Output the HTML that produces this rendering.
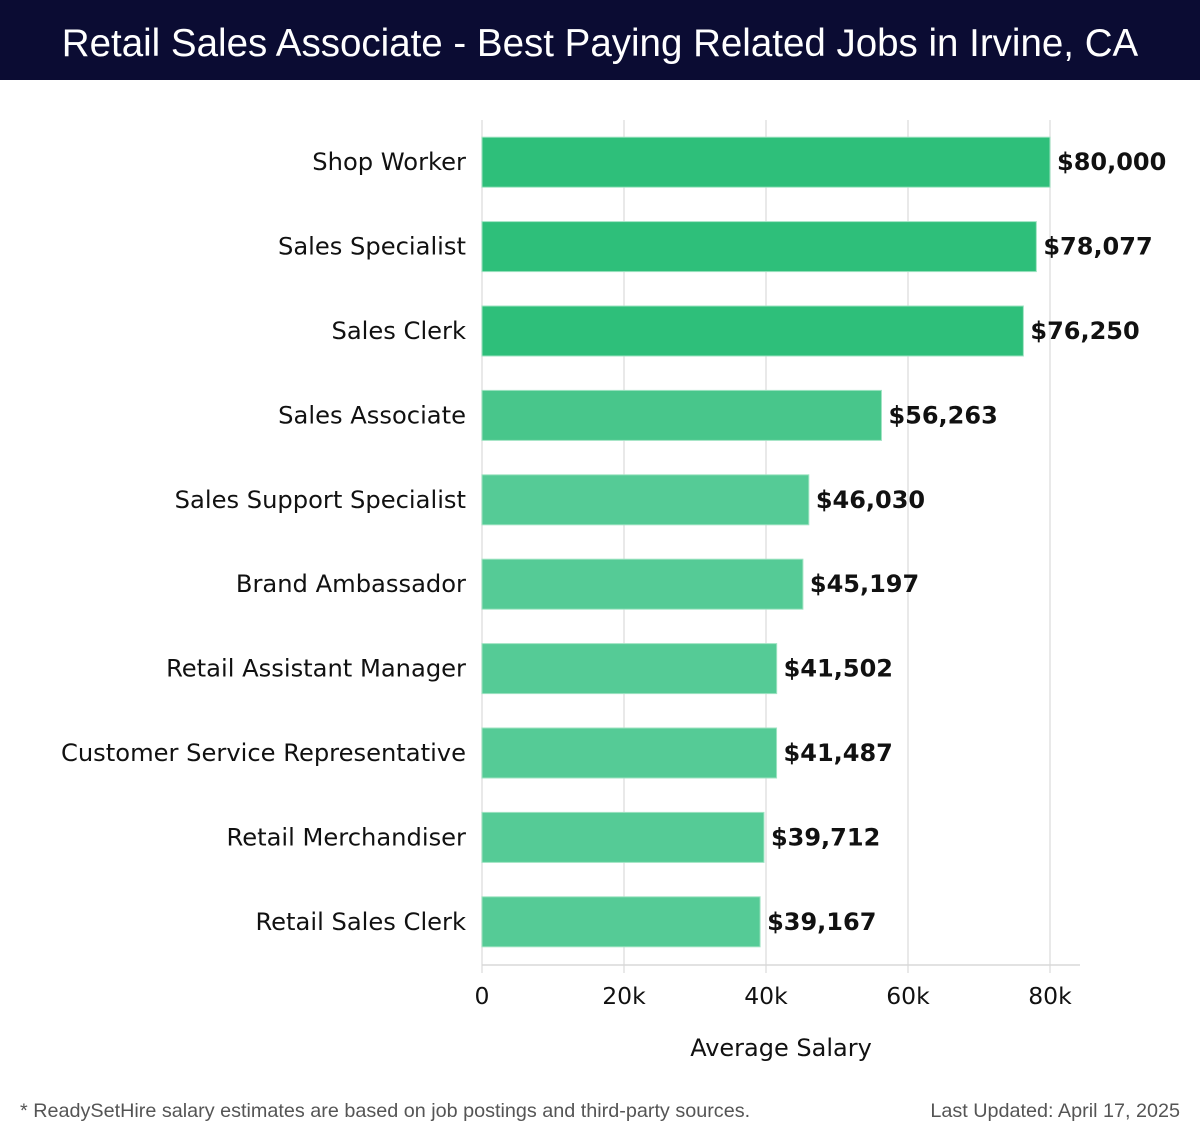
<!DOCTYPE html>
<html><head><meta charset="utf-8"><style>
body{margin:0;width:1200px;height:1140px;background:#fff;overflow:hidden;font-family:"DejaVu Sans","Liberation Sans",sans-serif}
#hdr{position:absolute;left:0;top:0;width:1200px;height:80px;background:#0b0c33;color:#fff;font-family:"Liberation Sans",sans-serif;font-size:38.5px;text-align:center;line-height:88px}
.ft{position:absolute;top:1100px;font-family:"Liberation Sans",sans-serif;font-size:19.8px;color:#555}
</style></head><body>
<div id="hdr">Retail Sales Associate - Best Paying Related Jobs in Irvine, CA</div>
<svg id="chart" width="1200" height="1140" style="position:absolute;left:0;top:0"></svg>
<div class="ft" style="left:20px">* ReadySetHire salary estimates are based on job postings and third-party sources.</div>
<div class="ft" style="right:20px">Last Updated: April 17, 2025</div>
<script>
const categories=["Shop Worker","Sales Specialist","Sales Clerk","Sales Associate","Sales Support Specialist","Brand Ambassador","Retail Assistant Manager","Customer Service Representative","Retail Merchandiser","Retail Sales Clerk"];
const salaries=[80000,78077,76250,56263,46030,45197,41502,41487,39712,39167];
const valueLabels=["$80,000","$78,077","$76,250","$56,263","$46,030","$45,197","$41,502","$41,487","$39,712","$39,167"];
const tickValues=[0,20000,40000,60000,80000];
const tickLabels=["0","20k","40k","60k","80k"];
const NS="http://www.w3.org/2000/svg";
const svg=document.getElementById('chart');
const x0=482,x1=1050,xmax=80000,top0=120,bandH=84.4,barH=50,axisY=965;
const xs=v=>x0+(v/xmax)*(x1-x0);
const yc=i=>top0+bandH*(i+0.5);
function mk(t,a){const e=document.createElementNS(NS,t);for(const k in a)e.setAttribute(k,a[k]);svg.appendChild(e);return e;}
tickValues.forEach((v,i)=>{
  const g=mk('line',{x1:xs(v),x2:xs(v),y1:top0,y2:axisY+8,stroke:'#e2e2e2','stroke-width':1.5});
  
  
  const t=mk('text',{x:xs(v),y:1004,'text-anchor':'middle','font-size':23.5,fill:'#111'});
  t.textContent=tickLabels[i];
  
  
});
const ax=mk('line',{x1:x0,x2:1080,y1:axisY,y2:axisY,stroke:'#d8d8d8','stroke-width':1.5});


categories.forEach((c,i)=>{
  const y=yc(i);
  const col=i<3?'#2ebf7a':(i<4?'#48c68b':'#55cb96');
  const r=mk('rect',{x:x0,y:y-barH/2,width:xs(salaries[i])-x0,height:barH,fill:col,stroke:'#9fe3c2','stroke-width':1});
  
  
  const l=mk('text',{x:466,y:y+8,'text-anchor':'end','font-size':24.2,fill:'#111'});
  l.textContent=c;
  
  
  const v=mk('text',{x:xs(salaries[i])+7,y:y+8,'font-size':24,'font-weight':'bold',fill:'#111'});
  v.textContent=valueLabels[i];
  
  
});
const at=mk('text',{x:781,y:1056,'text-anchor':'middle','font-size':24,fill:'#111'});
at.textContent='Average Salary';


</script>
</body></html>
